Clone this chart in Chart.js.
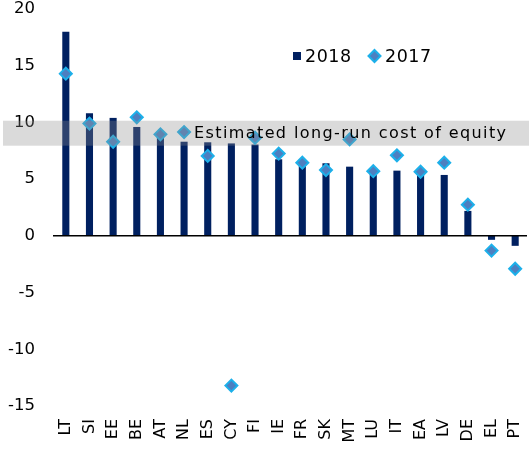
<!DOCTYPE html>
<html>
<head>
<meta charset="utf-8">
<script src="https://cdn.jsdelivr.net/npm/chart.js@4/dist/chart.umd.min.js"></script>
<style>
    html, body { margin: 0; padding: 0; background: #fff; }
    #wrap { width: 529px; height: 450px; }
</style>
</head>
<body>
<div id="wrap"><canvas id="coe"></canvas></div>
<script>
    const countries = ['LT', 'SI', 'EE', 'BE', 'AT', 'NL', 'ES', 'CY', 'FI', 'IE',
                       'FR', 'SK', 'MT', 'LU', 'IT', 'EA', 'LV', 'DE', 'EL', 'PT'];
    const roe2018 = [18.0, 10.8, 10.4, 9.6, 8.8, 8.3, 8.25, 8.15, 8.05, 6.75,
                     6.55, 6.4, 6.1, 5.9, 5.75, 5.6, 5.37, 2.2, -0.35, -0.88];
    const roe2017 = [14.3, 9.9, 8.3, 10.45, 8.95, 9.15, 7.05, -13.2, 8.65, 7.25,
                     6.45, 5.8, 8.5, 5.7, 7.1, 5.65, 6.45, 2.75, -1.3, -2.9];
    const coeRange = [7.95, 10.15];
    const coeLabel = 'Estimated long-run cost of equity';
    const yTicks = [-15, -10, -5, 0, 5, 10, 15, 20];

    const FONT = '"DejaVu Sans", Verdana, sans-serif';
    const NAVY = '#002060';
    const DIAMOND_FILL = '#4d7fc0';
    const DIAMOND_EDGE = '#1cb0ea';

    // grey band + caption, zero line and the little legend
    const extras = {
        id: 'extras',
        afterDatasetsDraw(chart) {
            const { ctx, chartArea, scales } = chart;
            const y = scales.y;
            const top = y.getPixelForValue(coeRange[1]);
            const bottom = y.getPixelForValue(coeRange[0]);
            ctx.save();
            ctx.fillStyle = 'rgba(140,140,140,0.32)';
            ctx.fillRect(3, top, chart.width - 3, bottom - top);
            ctx.fillStyle = '#000';
            ctx.font = '16px ' + FONT;
            ctx.letterSpacing = '1.4px';
            ctx.textBaseline = 'middle';
            ctx.fillText(coeLabel, 194, (top + bottom) / 2 + 1);

            const zero = y.getPixelForValue(0);
            ctx.strokeStyle = '#000';
            ctx.lineWidth = 1.5;
            ctx.beginPath();
            ctx.moveTo(chartArea.left - 1, zero);
            ctx.lineTo(chartArea.right, zero);
            ctx.stroke();

            // legend
            const ly = 56;
            ctx.font = '17.5px ' + FONT;
            ctx.letterSpacing = '0.5px';
            ctx.fillStyle = NAVY;
            ctx.fillRect(293, ly - 4, 8, 8);
            ctx.fillStyle = '#000';
            ctx.textAlign = 'left';
            ctx.fillText(chart.data.datasets[0].label, 305, ly + 1);
            ctx.beginPath();
            ctx.moveTo(374.5, ly - 6);
            ctx.lineTo(380.5, ly);
            ctx.lineTo(374.5, ly + 6);
            ctx.lineTo(368.5, ly);
            ctx.closePath();
            ctx.fillStyle = DIAMOND_FILL;
            ctx.fill();
            ctx.strokeStyle = DIAMOND_EDGE;
            ctx.lineWidth = 2;
            ctx.stroke();
            ctx.fillStyle = '#000';
            ctx.fillText(chart.data.datasets[1].label, 385, ly + 1);
            ctx.restore();
        }
    };

    const ctx = document.getElementById('coe').getContext('2d');
    new Chart(ctx, {
        data: {
            labels: countries,
            datasets: [{
                type: 'bar',
                label: '2018',
                data: roe2018,
                backgroundColor: NAVY,
                borderWidth: 0,
                barPercentage: 0.3,
                categoryPercentage: 1,
                order: 2
            }, {
                type: 'line',
                label: '2017',
                data: roe2017,
                showLine: false,
                pointStyle: 'rectRot',
                pointRadius: 6,
                pointHoverRadius: 6,
                pointBackgroundColor: DIAMOND_FILL,
                pointBorderColor: DIAMOND_EDGE,
                pointBorderWidth: 2,
                order: 1
            }]
        },
        options: {
            responsive: true,
            maintainAspectRatio: false,
            animation: false,
            events: [],
            layout: { autoPadding: false, padding: { top: 9, right: 2, left: 0, bottom: 0 } },
            plugins: {
                legend: { display: false },
                tooltip: { enabled: false }
            },
            scales: {
                x: {
                    grid: { display: false, drawTicks: false },
                    border: { display: false },
                    ticks: {
                        color: '#000',
                        font: { family: FONT, size: 16, lineHeight: 1 },
                        minRotation: 90,
                        maxRotation: 90,
                        padding: 13,
                        autoSkip: false
                    },
                    afterFit(scale) {
                        scale.height = 44;
                        scale.paddingLeft = 0;
                        scale.paddingRight = 0;
                    }
                },
                y: {
                    min: yTicks[0],
                    max: yTicks[yTicks.length - 1],
                    grid: { display: false, drawTicks: false },
                    border: { display: false },
                    afterBuildTicks(scale) {
                        scale.ticks = yTicks.map(v => ({ value: v }));
                    },
                    ticks: {
                        color: '#000',
                        font: { family: FONT, size: 16.5, lineHeight: 1 },
                        padding: 19
                    },
                    afterFit(scale) {
                        scale.width = 54;
                        scale.paddingTop = 0;
                        scale.paddingBottom = 0;
                    }
                }
            }
        },
        plugins: [extras]
    });
</script>
</body>
</html>
